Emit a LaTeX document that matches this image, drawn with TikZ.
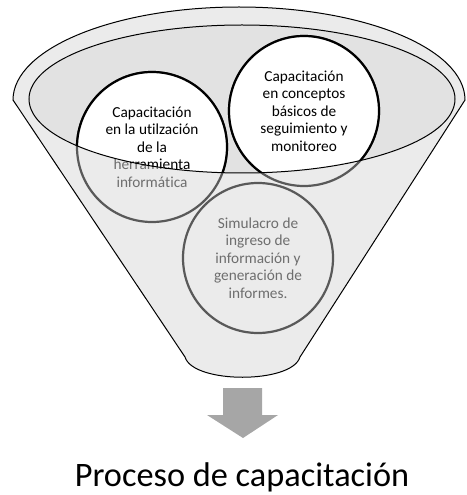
\documentclass[tikz,border=0pt]{standalone}
\usepackage{fontspec}
\setmainfont[Ligatures=NoCommon]{Carlito}
\definecolor{funnelgray}{HTML}{EBEBEB}
\definecolor{rimgray}{HTML}{E2E2E2}
\definecolor{fadeline}{HTML}{595959}
\definecolor{fadetext}{HTML}{6E6E6E}
\definecolor{arrowgray}{HTML}{A6A6A6}

\begin{document}
\begin{tikzpicture}[
	x=1bp, y=-1bp,
	bubble/.style = {
		circle, minimum size=150bp, inner sep=0pt,
		align=center, line width=2.2bp,
		font=\fontsize{15.3bp}{17.6bp}\selectfont
	},
	faded/.style = {bubble, draw=fadeline, text=fadetext},
	bright/.style = {bubble, draw=black, fill=white, text=black},
	rim/.style = {draw=black, line width=1bp}
]
	\useasboundingbox (0,0) rectangle (467,495);

	\filldraw[rim, fill=funnelgray]
		(13,100) arc[start angle=180, end angle=360, x radius=226, y radius=93]
		-- (300,357) .. controls (292,384) and (193,384) .. (185,357) -- cycle;
	\fill[rimgray] (242,99) ellipse[x radius=213, y radius=74];

	\node [faded] (tool) at (152,147) {Capacitación\\en la utilzación\\de la\\herramienta\\informática};
	\node [faded] (basics) at (304,111) {Capacitación\\en conceptos\\básicos de\\seguimiento y\\monitoreo};
	\node [faded] (drill) at (258,258) {Simulacro de\\ingreso de\\información y\\generación de\\informes.};

	\begin{scope}
		\clip (242,99) ellipse[x radius=213, y radius=74];
		\node [bright] at (tool) {Capacitación\\en la utilzación\\de la\\herramienta\\informática};
		\node [bright] at (basics) {Capacitación\\en conceptos\\básicos de\\seguimiento y\\monitoreo};
	\end{scope}
	\draw[rim] (242,99) ellipse[x radius=213, y radius=74];

	\fill[arrowgray] (223,388) -- (262,388) -- (262,415) -- (278,415)
		-- (243,438) -- (207,415) -- (223,415) -- cycle;

	\node [font=\fontsize{34.3bp}{40bp}\selectfont] (title) at (242,477) {Proceso de capacitación};
\end{tikzpicture}
\end{document}
